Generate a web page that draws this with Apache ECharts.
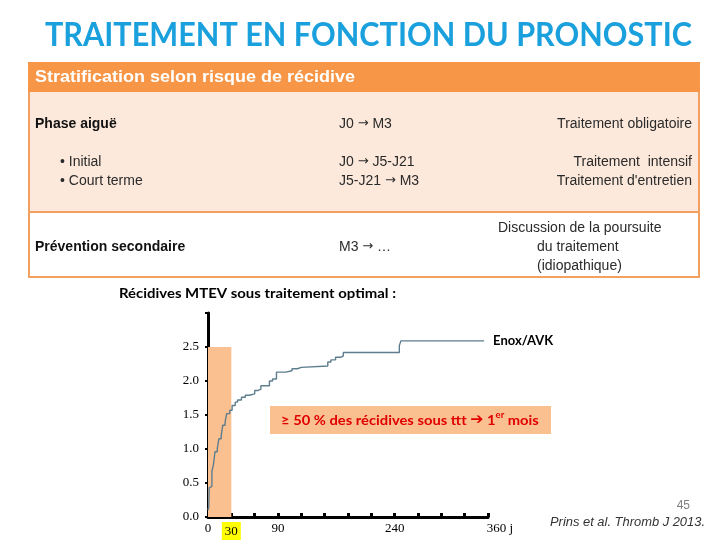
<!DOCTYPE html>
<html><head><meta charset="utf-8">
<script src="https://cdn.jsdelivr.net/npm/echarts/dist/echarts.min.js"></script>
<style>html,body{margin:0;padding:0;background:#fff}#c{width:720px;height:540px}</style>
</head><body><div id="c"></div>
<script>
// ---- data ----
const days = [0, 1, 1.5, 3, 5, 7, 9, 12, 14, 17, 19, 22, 24, 28, 31, 35, 38, 43, 48, 53, 60, 64, 68, 79, 83, 88, 100, 108, 115, 120, 154, 158, 164, 171, 174, 246, 248, 355];
const recurrence = [0.1, 0.15, 0.43, 0.45, 0.67, 0.77, 0.96, 1.01, 1.15, 1.2, 1.35, 1.4, 1.52, 1.57, 1.64, 1.69, 1.72, 1.76, 1.79, 1.81, 1.86, 1.88, 1.93, 2.0, 2.03, 2.13, 2.15, 2.18, 2.2, 2.22, 2.28, 2.31, 2.35, 2.37, 2.42, 2.52, 2.59, 2.59];
const seriesName = 'Enox/AVK';
const xLabelDays = [0, 30, 90, 240, 360];
const xLabelTexts = ['0', '30', '90', '240', '360 j'];
const yTickLabels = ['0.0', '0.5', '1.0', '1.5', '2.0', '2.5'];
const firstMonth = [0, 30];
const firstMonthTop = 2.5;

// ---- helpers ----
const mctx = document.createElement('canvas').getContext('2d');
function fitScale(text, font, target) {
  mctx.font = font;
  const w = mctx.measureText(text).width;
  return w > 0 ? target / w : 1;
}
function txt(text, x, y, o) {
  o = o || {};
  const size = o.size || 14, weight = o.weight || 'normal', family = o.family || 'Liberation Sans, Arial, sans-serif', style = o.style || 'normal';
  const font = style + ' ' + weight + ' ' + size + 'px ' + family;
  let sx = 1;
  if (o.fit) sx = fitScale(text, font, o.fit);
  const color = o.color || '#2a2a2a';
  const st = { x: 0, y: 0, fill: color, fontSize: size, fontWeight: weight, fontFamily: family, fontStyle: style,
      textAlign: o.align || 'left', textVerticalAlign: 'middle' };
  if (text.indexOf('→') >= 0) {
    const parts = text.split('→');
    st.text = parts.map(p => '{a|' + p + '}').join('{r|→}');
    st.rich = {
      a: { fontSize: size, fontFamily: family, fill: color, color: color, lineHeight: 18 },
      r: { fontSize: 13, fontFamily: 'DejaVu Sans, sans-serif', fill: color, color: color, lineHeight: 18 }
    };
  } else {
    st.text = text;
  }
  return { type: 'text', x: x, y: y, scaleX: sx, z: 10, style: st };
}

const data = days.map((d, i) => [d, recurrence[i]]);
const border = '#F4A060';

const graphics = [
  txt('TRAITEMENT EN FONCTION DU PRONOSTIC', 45, 36, { size: 32, weight: 'bold', family: 'Lato, sans-serif', color: '#1AA0DC', fit: 647 }),
  { type: 'rect', shape: { x: 28, y: 92, width: 672, height: 120 }, style: { fill: '#FCE9DC' }, z: 1 },
  { type: 'rect', shape: { x: 28, y: 62, width: 672, height: 30 }, style: { fill: '#F79646' }, z: 2 },
  { type: 'line', shape: { x1: 29, y1: 92, x2: 29, y2: 278 }, style: { stroke: border, lineWidth: 2 }, z: 3 },
  { type: 'line', shape: { x1: 699, y1: 92, x2: 699, y2: 278 }, style: { stroke: border, lineWidth: 2 }, z: 3 },
  { type: 'line', shape: { x1: 28, y1: 212, x2: 700, y2: 212 }, style: { stroke: border, lineWidth: 2 }, z: 3 },
  { type: 'line', shape: { x1: 28, y1: 277, x2: 700, y2: 277 }, style: { stroke: border, lineWidth: 2 }, z: 3 },
  txt('Stratification selon risque de récidive', 35, 77, { size: 17, weight: 'bold', color: '#ffffff', fit: 320 }),
  txt('Phase aiguë', 35, 124, { weight: 'bold', color: '#111' }),
  txt('J0 → M3', 339, 124, {}),
  txt('Traitement obligatoire', 692, 124, { align: 'right' }),
  txt('• Initial', 60, 162, {}),
  txt('• Court terme', 60, 181, {}),
  txt('J0 → J5-J21', 339, 162, {}),
  txt('J5-J21 → M3', 339, 181, {}),
  txt('Traitement  intensif', 692, 162, { align: 'right' }),
  txt("Traitement d'entretien", 692, 181, { align: 'right' }),
  txt('Prévention secondaire', 35, 247, { weight: 'bold', color: '#111' }),
  txt('M3 → …', 339, 247, {}),
  txt('Discussion de la poursuite', 498, 228, {}),
  txt('du traitement', 537, 247, {}),
  txt('(idiopathique)', 537, 266, {}),
  txt('Récidives MTEV sous traitement optimal :', 119, 293, { size: 14, weight: 'bold', family: 'Lato, sans-serif', color: '#000', fit: 277 }),
  { type: 'rect', shape: { x: 270, y: 406, width: 281, height: 28 }, style: { fill: '#FAC090' }, z: 5 },
  {
    type: 'text', x: 281, y: 420, z: 10,
    scaleX: fitScale('≥ 50 % des récidives sous ttt ➔ 1er mois', 'bold 14px Lato', 262),
    style: {
      text: '{a|≥ 50 % des récidives sous ttt }{r|➔}{a| 1}{s|er}{a| mois}', x: 0, y: 0, textVerticalAlign: 'middle',
      rich: {
        a: { fontSize: 14, fontWeight: 'bold', fontFamily: 'Lato, DejaVu Sans, sans-serif', fill: '#E00000', color: '#E00000', lineHeight: 18 },
        r: { fontSize: 15, fontWeight: 'bold', fontFamily: 'DejaVu Sans, sans-serif', fill: '#E00000', color: '#E00000', lineHeight: 18 },
        s: { fontSize: 9, fontWeight: 'bold', fontFamily: 'Lato, sans-serif', fill: '#E00000', color: '#E00000', lineHeight: 18, verticalAlign: 'top' }
      }
    }
  },
  txt('45', 690, 506, { size: 12, color: '#7f7f7f', align: 'right' }),
  txt('Prins et al. Thromb J 2013.', 550, 523, { size: 12, style: 'italic', color: '#333', fit: 155 })
];

const chart = echarts.init(document.getElementById('c'));
chart.setOption({
  animation: false,
  backgroundColor: '#ffffff',
  grid: { left: 208, right: 232, top: 313, bottom: 21, containLabel: false },
  xAxis: {
    type: 'value', min: 0, max: 360, interval: 30,
    splitLine: { show: false },
    axisLine: { show: true, lineStyle: { color: '#000', width: 3 } },
    axisTick: { show: true, inside: true, length: 4, lineStyle: { color: '#000', width: 3 } },
    axisLabel: {
      show: true, margin: 5, showMinLabel: true, showMaxLabel: true, hideOverlap: false,
      color: '#000', fontFamily: 'Liberation Serif, serif', fontSize: 13,
      formatter: function (v) {
        const i = xLabelDays.indexOf(v);
        if (i < 0) return '';
        if (v === 30) return '{y|' + xLabelTexts[i] + '}';
        if (v === 360) return '{e|' + xLabelTexts[i] + '}';
        return xLabelTexts[i];
      },
      rich: {
        y: { backgroundColor: '#FFFF00', padding: [3, 3, 2, 3], fontFamily: 'Liberation Serif, serif', fontSize: 13, color: '#000' },
        e: { padding: [0, 0, 0, 24], fontFamily: 'Liberation Serif, serif', fontSize: 13, color: '#000' }
      }
    }
  },
  yAxis: {
    type: 'value', min: 0, max: 3, interval: 0.5,
    splitLine: { show: false },
    axisLine: { show: true, lineStyle: { color: '#000', width: 3 } },
    axisTick: { show: true, inside: false, length: 3, lineStyle: { color: '#000', width: 2 } },
    axisLabel: {
      show: true, margin: 9, color: '#000', fontFamily: 'Liberation Serif, serif', fontSize: 13,
      formatter: function (v) { const i = Math.round(v / 0.5); return i < yTickLabels.length ? yTickLabels[i] : ''; }
    }
  },
  series: [{
    name: seriesName, type: 'line', step: 'end', data: data, showSymbol: false, z: 4,
    lineStyle: { color: '#5E7E8E', width: 1.4 },
    endLabel: { show: true, formatter: seriesName, color: '#000', fontWeight: 'bold', fontSize: 13, fontFamily: 'Lato, sans-serif', distance: 9 },
    markArea: {
      silent: true, z: 1,
      itemStyle: { color: '#FAC090', opacity: 1 },
      data: [[{ xAxis: firstMonth[0], yAxis: 0 }, { xAxis: firstMonth[1], yAxis: firstMonthTop }]]
    }
  }],
  graphic: graphics
});
</script></body></html>
